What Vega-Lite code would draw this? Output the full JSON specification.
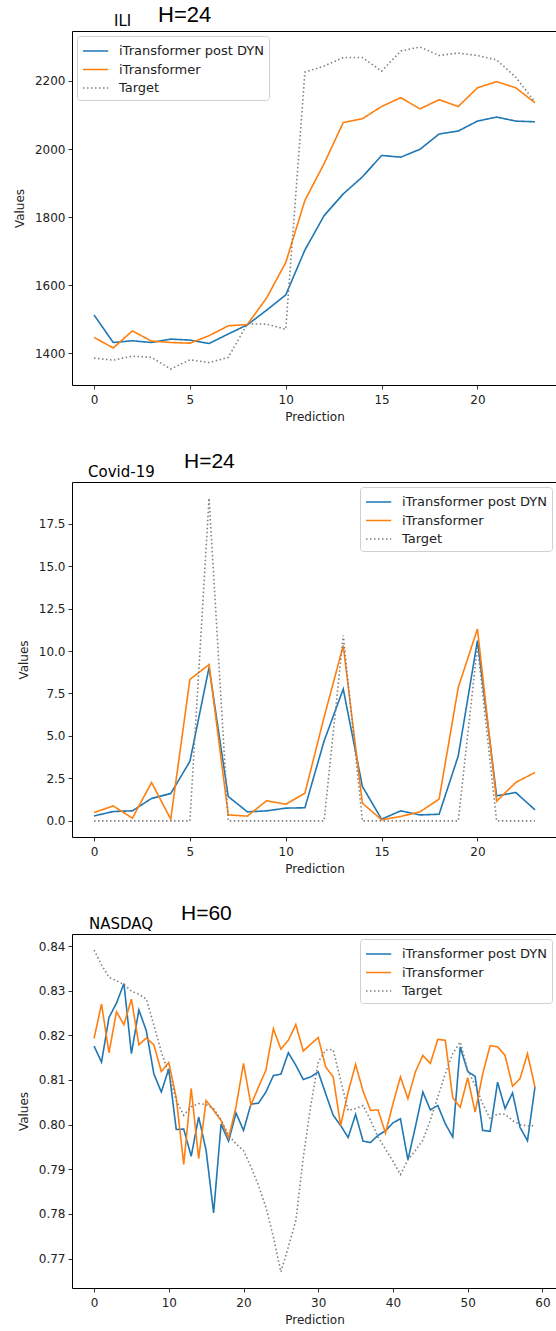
{
  "$schema": "https://vega.github.io/schema/vega-lite/v6.json",
  "padding": {"left": 12, "top": 3, "right": 0, "bottom": 4},
  "background": "white",
  "spacing": 27,
  "datasets": {
    "ili": [
      {"Prediction": 0, "iTransformer post DYN": 1512, "iTransformer": 1446, "Target": 1385},
      {"Prediction": 1, "iTransformer post DYN": 1431, "iTransformer": 1415, "Target": 1379},
      {"Prediction": 2, "iTransformer post DYN": 1436, "iTransformer": 1465, "Target": 1391},
      {"Prediction": 3, "iTransformer post DYN": 1431, "iTransformer": 1435, "Target": 1387},
      {"Prediction": 4, "iTransformer post DYN": 1441, "iTransformer": 1431, "Target": 1353},
      {"Prediction": 5, "iTransformer post DYN": 1438, "iTransformer": 1429, "Target": 1380},
      {"Prediction": 6, "iTransformer post DYN": 1428, "iTransformer": 1451, "Target": 1372},
      {"Prediction": 7, "iTransformer post DYN": 1456, "iTransformer": 1480, "Target": 1387},
      {"Prediction": 8, "iTransformer post DYN": 1483, "iTransformer": 1484, "Target": 1486},
      {"Prediction": 9, "iTransformer post DYN": 1526, "iTransformer": 1562, "Target": 1485},
      {"Prediction": 10, "iTransformer post DYN": 1571, "iTransformer": 1666, "Target": 1470},
      {"Prediction": 11, "iTransformer post DYN": 1703, "iTransformer": 1849, "Target": 2226},
      {"Prediction": 12, "iTransformer post DYN": 1804, "iTransformer": 1957, "Target": 2244},
      {"Prediction": 13, "iTransformer post DYN": 1868, "iTransformer": 2078, "Target": 2269},
      {"Prediction": 14, "iTransformer post DYN": 1918, "iTransformer": 2089, "Target": 2269},
      {"Prediction": 15, "iTransformer post DYN": 1981, "iTransformer": 2125, "Target": 2229},
      {"Prediction": 16, "iTransformer post DYN": 1976, "iTransformer": 2151, "Target": 2288},
      {"Prediction": 17, "iTransformer post DYN": 1999, "iTransformer": 2118, "Target": 2300},
      {"Prediction": 18, "iTransformer post DYN": 2044, "iTransformer": 2145, "Target": 2275},
      {"Prediction": 19, "iTransformer post DYN": 2053, "iTransformer": 2125, "Target": 2282},
      {"Prediction": 20, "iTransformer post DYN": 2082, "iTransformer": 2180, "Target": 2275},
      {"Prediction": 21, "iTransformer post DYN": 2094, "iTransformer": 2198, "Target": 2262},
      {"Prediction": 22, "iTransformer post DYN": 2082, "iTransformer": 2180, "Target": 2211},
      {"Prediction": 23, "iTransformer post DYN": 2080, "iTransformer": 2136, "Target": 2138}
    ],
    "covid": [
      {"Prediction": 0, "iTransformer post DYN": 0.29, "iTransformer": 0.49, "Target": 0},
      {"Prediction": 1, "iTransformer post DYN": 0.55, "iTransformer": 0.88, "Target": 0},
      {"Prediction": 2, "iTransformer post DYN": 0.59, "iTransformer": 0.16, "Target": 0},
      {"Prediction": 3, "iTransformer post DYN": 1.32, "iTransformer": 2.26, "Target": 0},
      {"Prediction": 4, "iTransformer post DYN": 1.61, "iTransformer": 0.10, "Target": 0},
      {"Prediction": 5, "iTransformer post DYN": 3.50, "iTransformer": 8.33, "Target": 0},
      {"Prediction": 6, "iTransformer post DYN": 9.04, "iTransformer": 9.20, "Target": 19.0},
      {"Prediction": 7, "iTransformer post DYN": 1.43, "iTransformer": 0.35, "Target": 0},
      {"Prediction": 8, "iTransformer post DYN": 0.53, "iTransformer": 0.28, "Target": 0},
      {"Prediction": 9, "iTransformer post DYN": 0.59, "iTransformer": 1.18, "Target": 0},
      {"Prediction": 10, "iTransformer post DYN": 0.75, "iTransformer": 0.98, "Target": 0},
      {"Prediction": 11, "iTransformer post DYN": 0.77, "iTransformer": 1.63, "Target": 0},
      {"Prediction": 12, "iTransformer post DYN": 4.70, "iTransformer": 6.10, "Target": 0},
      {"Prediction": 13, "iTransformer post DYN": 7.76, "iTransformer": 10.32, "Target": 10.91},
      {"Prediction": 14, "iTransformer post DYN": 2.02, "iTransformer": 1.04, "Target": 0},
      {"Prediction": 15, "iTransformer post DYN": 0.10, "iTransformer": 0.06, "Target": 0},
      {"Prediction": 16, "iTransformer post DYN": 0.59, "iTransformer": 0.26, "Target": 0},
      {"Prediction": 17, "iTransformer post DYN": 0.35, "iTransformer": 0.53, "Target": 0},
      {"Prediction": 18, "iTransformer post DYN": 0.39, "iTransformer": 1.28, "Target": 0},
      {"Prediction": 19, "iTransformer post DYN": 3.83, "iTransformer": 7.86, "Target": 0},
      {"Prediction": 20, "iTransformer post DYN": 10.61, "iTransformer": 11.30, "Target": 10.3},
      {"Prediction": 21, "iTransformer post DYN": 1.47, "iTransformer": 1.16, "Target": 0},
      {"Prediction": 22, "iTransformer post DYN": 1.67, "iTransformer": 2.26, "Target": 0},
      {"Prediction": 23, "iTransformer post DYN": 0.65, "iTransformer": 2.85, "Target": 0}
    ],
    "nasdaq": [
      {"Prediction": 0, "iTransformer post DYN": 0.8176, "iTransformer": 0.8193, "Target": 0.8391},
      {"Prediction": 1, "iTransformer post DYN": 0.8140, "iTransformer": 0.8270, "Target": 0.8358},
      {"Prediction": 2, "iTransformer post DYN": 0.8240, "iTransformer": 0.8161, "Target": 0.8330},
      {"Prediction": 3, "iTransformer post DYN": 0.8272, "iTransformer": 0.8253, "Target": 0.8322},
      {"Prediction": 4, "iTransformer post DYN": 0.8316, "iTransformer": 0.8224, "Target": 0.8314},
      {"Prediction": 5, "iTransformer post DYN": 0.8159, "iTransformer": 0.8281, "Target": 0.8299},
      {"Prediction": 6, "iTransformer post DYN": 0.8257, "iTransformer": 0.8179, "Target": 0.8292},
      {"Prediction": 7, "iTransformer post DYN": 0.8210, "iTransformer": 0.8194, "Target": 0.8281},
      {"Prediction": 8, "iTransformer post DYN": 0.8114, "iTransformer": 0.8179, "Target": 0.8223},
      {"Prediction": 9, "iTransformer post DYN": 0.8073, "iTransformer": 0.8119, "Target": 0.8163},
      {"Prediction": 10, "iTransformer post DYN": 0.8125, "iTransformer": 0.8139, "Target": 0.8114},
      {"Prediction": 11, "iTransformer post DYN": 0.7989, "iTransformer": 0.8060, "Target": 0.8054},
      {"Prediction": 12, "iTransformer post DYN": 0.7990, "iTransformer": 0.7911, "Target": 0.8021},
      {"Prediction": 13, "iTransformer post DYN": 0.7929, "iTransformer": 0.8081, "Target": 0.8040},
      {"Prediction": 14, "iTransformer post DYN": 0.8017, "iTransformer": 0.7924, "Target": 0.8047},
      {"Prediction": 15, "iTransformer post DYN": 0.7942, "iTransformer": 0.8054, "Target": 0.8045},
      {"Prediction": 16, "iTransformer post DYN": 0.7802, "iTransformer": 0.8032, "Target": 0.8036},
      {"Prediction": 17, "iTransformer post DYN": 0.8001, "iTransformer": 0.8009, "Target": 0.8011},
      {"Prediction": 18, "iTransformer post DYN": 0.7963, "iTransformer": 0.7970, "Target": 0.7976},
      {"Prediction": 19, "iTransformer post DYN": 0.8026, "iTransformer": 0.8040, "Target": 0.7957},
      {"Prediction": 20, "iTransformer post DYN": 0.7987, "iTransformer": 0.8137, "Target": 0.7942},
      {"Prediction": 21, "iTransformer post DYN": 0.8046, "iTransformer": 0.8044, "Target": 0.7905},
      {"Prediction": 22, "iTransformer post DYN": 0.8048, "iTransformer": 0.8084, "Target": 0.7864},
      {"Prediction": 23, "iTransformer post DYN": 0.8073, "iTransformer": 0.8122, "Target": 0.7815},
      {"Prediction": 24, "iTransformer post DYN": 0.8110, "iTransformer": 0.8215, "Target": 0.7748},
      {"Prediction": 25, "iTransformer post DYN": 0.8113, "iTransformer": 0.8169, "Target": 0.7670},
      {"Prediction": 26, "iTransformer post DYN": 0.8161, "iTransformer": 0.8189, "Target": 0.7726},
      {"Prediction": 27, "iTransformer post DYN": 0.8133, "iTransformer": 0.8224, "Target": 0.7785},
      {"Prediction": 28, "iTransformer post DYN": 0.8101, "iTransformer": 0.8165, "Target": 0.7927},
      {"Prediction": 29, "iTransformer post DYN": 0.8107, "iTransformer": 0.8180, "Target": 0.8043},
      {"Prediction": 30, "iTransformer post DYN": 0.8118, "iTransformer": 0.8195, "Target": 0.8140},
      {"Prediction": 31, "iTransformer post DYN": 0.8069, "iTransformer": 0.8129, "Target": 0.8167},
      {"Prediction": 32, "iTransformer post DYN": 0.8021, "iTransformer": 0.8107, "Target": 0.8168},
      {"Prediction": 33, "iTransformer post DYN": 0.7998, "iTransformer": 0.7998, "Target": 0.8099},
      {"Prediction": 34, "iTransformer post DYN": 0.7971, "iTransformer": 0.8073, "Target": 0.8032},
      {"Prediction": 35, "iTransformer post DYN": 0.8023, "iTransformer": 0.8135, "Target": 0.8036},
      {"Prediction": 36, "iTransformer post DYN": 0.7963, "iTransformer": 0.8075, "Target": 0.8043},
      {"Prediction": 37, "iTransformer post DYN": 0.7960, "iTransformer": 0.8032, "Target": 0.8010},
      {"Prediction": 38, "iTransformer post DYN": 0.7976, "iTransformer": 0.8033, "Target": 0.7972},
      {"Prediction": 39, "iTransformer post DYN": 0.7986, "iTransformer": 0.7981, "Target": 0.7945},
      {"Prediction": 40, "iTransformer post DYN": 0.8004, "iTransformer": 0.8047, "Target": 0.7918},
      {"Prediction": 41, "iTransformer post DYN": 0.8013, "iTransformer": 0.8107, "Target": 0.7888},
      {"Prediction": 42, "iTransformer post DYN": 0.7921, "iTransformer": 0.8058, "Target": 0.7921},
      {"Prediction": 43, "iTransformer post DYN": 0.7995, "iTransformer": 0.8118, "Target": 0.7942},
      {"Prediction": 44, "iTransformer post DYN": 0.8073, "iTransformer": 0.8155, "Target": 0.7965},
      {"Prediction": 45, "iTransformer post DYN": 0.8033, "iTransformer": 0.8137, "Target": 0.8010},
      {"Prediction": 46, "iTransformer post DYN": 0.8043, "iTransformer": 0.8191, "Target": 0.8062},
      {"Prediction": 47, "iTransformer post DYN": 0.8002, "iTransformer": 0.8189, "Target": 0.8114},
      {"Prediction": 48, "iTransformer post DYN": 0.7972, "iTransformer": 0.8060, "Target": 0.8159},
      {"Prediction": 49, "iTransformer post DYN": 0.8174, "iTransformer": 0.8039, "Target": 0.8185},
      {"Prediction": 50, "iTransformer post DYN": 0.8119, "iTransformer": 0.8105, "Target": 0.8122},
      {"Prediction": 51, "iTransformer post DYN": 0.8108, "iTransformer": 0.8028, "Target": 0.8088},
      {"Prediction": 52, "iTransformer post DYN": 0.7987, "iTransformer": 0.8113, "Target": 0.8047},
      {"Prediction": 53, "iTransformer post DYN": 0.7985, "iTransformer": 0.8177, "Target": 0.8013},
      {"Prediction": 54, "iTransformer post DYN": 0.8095, "iTransformer": 0.8174, "Target": 0.8024},
      {"Prediction": 55, "iTransformer post DYN": 0.8036, "iTransformer": 0.8155, "Target": 0.8023},
      {"Prediction": 56, "iTransformer post DYN": 0.8071, "iTransformer": 0.8086, "Target": 0.8009},
      {"Prediction": 57, "iTransformer post DYN": 0.7994, "iTransformer": 0.8103, "Target": 0.8000},
      {"Prediction": 58, "iTransformer post DYN": 0.7964, "iTransformer": 0.8159, "Target": 0.7997},
      {"Prediction": 59, "iTransformer post DYN": 0.8084, "iTransformer": 0.8084, "Target": 0.7998}
    ]
  },
  "resolve": {"scale": {"color": "independent", "strokeDash": "independent"}, "legend": {"color": "independent", "strokeDash": "independent"}},
  "vconcat": [
    {
      "title": {"text": "H=24", "font": "Liberation Sans", "fontSize": 22, "fontWeight": "normal", "color": "black", "anchor": "start", "frame": "group", "dx": 86, "dy": 17},
      "resolve": {"scale": {"color": "independent", "strokeDash": "independent"}, "legend": {"color": "independent", "strokeDash": "independent"}},
      "vconcat": [
        {
          "title": {"text": "ILI", "font": "DejaVu Sans", "fontSize": 15, "fontWeight": "normal", "color": "black", "anchor": "start", "frame": "group", "dx": 42, "offset": 2},
          "width": 485,
          "height": 354,
          "data": {"name": "ili"},
          "transform": [{"fold": ["iTransformer post DYN", "iTransformer", "Target"], "as": ["series", "value"]}],
          "mark": {"type": "line", "strokeWidth": 1.6, "clip": true},
          "encoding": {
            "x": {"field": "Prediction", "type": "quantitative", "scale": {"domain": [-1.15, 24.15], "nice": false, "zero": false}, "axis": {"values": [0, 5, 10, 15, 20], "title": "Prediction"}},
            "y": {"field": "value", "type": "quantitative", "scale": {"domain": [1306, 2347], "nice": false, "zero": false}, "axis": {"values": [1400, 1600, 1800, 2000, 2200], "format": "d", "title": "Values"}},
            "color": {"field": "series", "type": "nominal", "scale": {"domain": ["iTransformer post DYN", "iTransformer", "Target"], "range": ["#1f77b4", "#ff7f0e", "#808080"]}, "legend": {"orient": "top-left", "title": null}},
            "strokeDash": {"field": "series", "type": "nominal", "scale": {"domain": ["iTransformer post DYN", "iTransformer", "Target"], "range": [[1, 0], [1, 0], [1.5, 2.5]]}, "legend": {"orient": "top-left", "title": null}}
          }
        }
      ]
    },
    {
      "title": {"text": "H=24", "font": "Liberation Sans", "fontSize": 21, "fontWeight": "normal", "color": "black", "anchor": "start", "frame": "group", "dx": 112, "dy": 11},
      "resolve": {"scale": {"color": "independent", "strokeDash": "independent"}, "legend": {"color": "independent", "strokeDash": "independent"}},
      "vconcat": [
        {
          "title": {"text": "Covid-19", "font": "DejaVu Sans", "fontSize": 15, "fontWeight": "normal", "color": "black", "anchor": "start", "frame": "group", "dx": 16, "offset": 2},
          "width": 485,
          "height": 355,
          "data": {"name": "covid"},
          "transform": [{"fold": ["iTransformer post DYN", "iTransformer", "Target"], "as": ["series", "value"]}],
          "mark": {"type": "line", "strokeWidth": 1.6, "clip": true},
          "encoding": {
            "x": {"field": "Prediction", "type": "quantitative", "scale": {"domain": [-1.15, 24.15], "nice": false, "zero": false}, "axis": {"values": [0, 5, 10, 15, 20], "title": "Prediction"}},
            "y": {"field": "value", "type": "quantitative", "scale": {"domain": [-0.95, 19.95], "nice": false, "zero": false}, "axis": {"values": [0, 2.5, 5, 7.5, 10, 12.5, 15, 17.5], "format": ".1f", "title": "Values"}},
            "color": {"field": "series", "type": "nominal", "scale": {"domain": ["iTransformer post DYN", "iTransformer", "Target"], "range": ["#1f77b4", "#ff7f0e", "#808080"]}, "legend": {"orient": "top-right", "title": null}},
            "strokeDash": {"field": "series", "type": "nominal", "scale": {"domain": ["iTransformer post DYN", "iTransformer", "Target"], "range": [[1, 0], [1, 0], [1.5, 2.5]]}, "legend": {"orient": "top-right", "title": null}}
          }
        }
      ]
    },
    {
      "title": {"text": "H=60", "font": "Liberation Sans", "fontSize": 21, "fontWeight": "normal", "color": "black", "anchor": "start", "frame": "group", "dx": 109, "dy": 11},
      "resolve": {"scale": {"color": "independent", "strokeDash": "independent"}, "legend": {"color": "independent", "strokeDash": "independent"}},
      "vconcat": [
        {
          "title": {"text": "NASDAQ", "font": "DejaVu Sans", "fontSize": 15, "fontWeight": "normal", "color": "black", "anchor": "start", "frame": "group", "dx": 17, "offset": 2},
          "width": 485,
          "height": 354,
          "data": {"name": "nasdaq"},
          "transform": [{"fold": ["iTransformer post DYN", "iTransformer", "Target"], "as": ["series", "value"]}],
          "mark": {"type": "line", "strokeWidth": 1.6, "clip": true},
          "encoding": {
            "x": {"field": "Prediction", "type": "quantitative", "scale": {"domain": [-2.95, 61.95], "nice": false, "zero": false}, "axis": {"values": [0, 10, 20, 30, 40, 50, 60], "title": "Prediction"}},
            "y": {"field": "value", "type": "quantitative", "scale": {"domain": [0.7634, 0.8427], "nice": false, "zero": false}, "axis": {"values": [0.77, 0.78, 0.79, 0.80, 0.81, 0.82, 0.83, 0.84], "format": ".2f", "title": "Values"}},
            "color": {"field": "series", "type": "nominal", "scale": {"domain": ["iTransformer post DYN", "iTransformer", "Target"], "range": ["#1f77b4", "#ff7f0e", "#808080"]}, "legend": {"orient": "top-right", "title": null}},
            "strokeDash": {"field": "series", "type": "nominal", "scale": {"domain": ["iTransformer post DYN", "iTransformer", "Target"], "range": [[1, 0], [1, 0], [1.5, 2.5]]}, "legend": {"orient": "top-right", "title": null}}
          }
        }
      ]
    }
  ],
  "config": {
    "view": {"stroke": "#000000", "strokeWidth": 1},
    "axis": {"domain": false, "grid": false, "tickColor": "#000000", "tickSize": 4, "tickWidth": 0.8, "labelFont": "DejaVu Sans", "labelFontSize": 12, "labelColor": "#222222", "labelPadding": 3, "titleFont": "DejaVu Sans", "titleFontSize": 12, "titleFontWeight": "normal", "titleColor": "#222222", "titlePadding": 5},
    "axisX": {"labelPadding": 5, "titlePadding": 6},
    "axisY": {"titlePadding": 8},
    "legend": {"offset": 5, "symbolType": "M-1,0H1.8", "symbolSize": 324, "symbolStrokeWidth": 1.6, "labelFont": "DejaVu Sans", "labelFontSize": 13, "labelColor": "#222222", "fillColor": "white", "strokeColor": "#d0d0d0", "cornerRadius": 3, "padding": 5, "rowPadding": 1.5, "labelOffset": 17, "labelLimit": 300}
  }
}
